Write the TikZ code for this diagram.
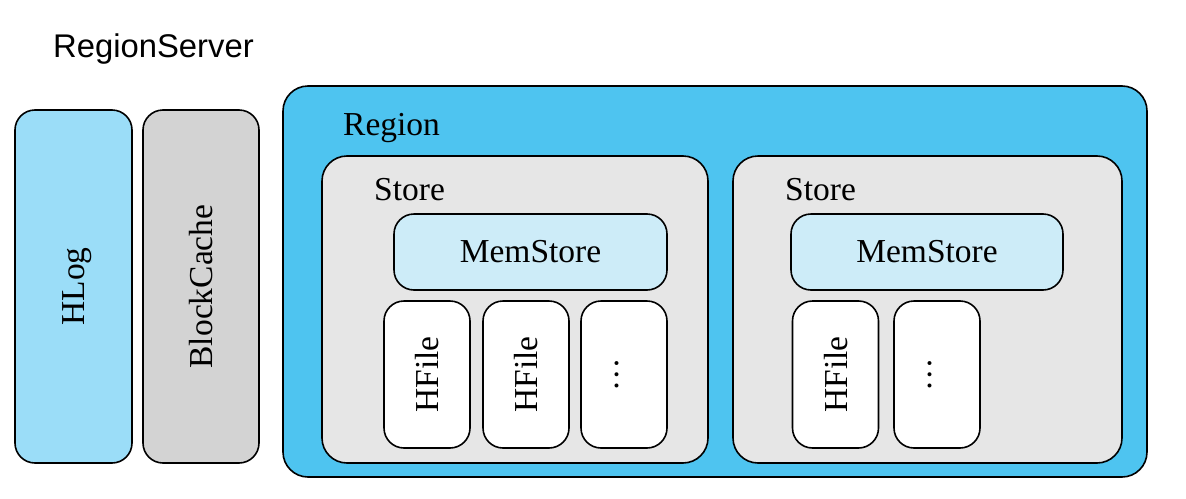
\documentclass[tikz,border=0pt]{standalone}
\usepackage{fontspec}
\setmainfont{Liberation Serif}
\newfontfamily\titlefont{Liberation Sans}
\usepackage{graphicx}
\definecolor{hlogblue}{RGB}{155,221,248}
\definecolor{regionblue}{RGB}{78,196,240}
\definecolor{cachegray}{RGB}{211,211,211}
\definecolor{storegray}{RGB}{230,230,230}
\definecolor{memblue}{RGB}{205,236,248}
\tikzset{
	box/.style={draw=black, line width=1.6pt, rounded corners=20pt, inner sep=0pt},
	lbl/.style={font=\fontsize{33.5}{37}\selectfont},
	filebox/.style={box, fill=white, lbl, minimum width=86pt, minimum height=147pt},
}
\newcommand{\vtext}[1]{\rotatebox{90}{\raisebox{0pt}[\height][0pt]{#1}}}
\newcommand{\vdotsbox}{\rotatebox{90}{\rule[-15pt]{0pt}{15pt}\char"2026}}

\begin{document}
\begin{tikzpicture}[x=1pt, y=-1pt]
		%%%%% START %%%%%
		\useasboundingbox (0, 0) rectangle (1186, 498);
		
		\node[anchor=base west, inner sep=0pt, font=\titlefont\fontsize{32.8}{36}\selectfont] (rs) at (53, 57) {RegionServer};
		
		\node[box, fill=hlogblue, lbl, minimum width=117pt, minimum height=353pt] (hlog) at (73.5, 286.5) {\vtext{HLog}};
		\node[box, fill=cachegray, lbl, minimum width=116pt, minimum height=353pt] (cache) at (201, 286.5) {\vtext{BlockCache}};
		
		\node[box, fill=regionblue, rounded corners=25pt, minimum width=864pt, minimum height=391pt] (region) at (715, 281.5) {};
		\node[lbl, anchor=base west, inner sep=0pt] (regiontxt) at (343, 135) {Region};
		
		% left store
		\node[box, fill=storegray, rounded corners=25pt, minimum width=386pt, minimum height=307pt] (store1) at (515, 309.5) {};
		\node[lbl, anchor=base west, inner sep=0pt] (storetxt1) at (374, 200) {Store};
		\node[box, fill=memblue, lbl, minimum width=273pt, minimum height=76pt] (mem1) at (530.5, 252) {MemStore};
		\node[filebox] (hfile1) at (427, 374.5) {\vtext{HFile}};
		\node[filebox] (hfile2) at (526, 374.5) {\vtext{HFile}};
		\node[filebox] (more1) at (624, 374.5) {\vdotsbox};
		
		% right store
		\node[box, fill=storegray, rounded corners=25pt, minimum width=389pt, minimum height=307pt] (store2) at (927.5, 309.5) {};
		\node[lbl, anchor=base west, inner sep=0pt] (storetxt2) at (785, 200) {Store};
		\node[box, fill=memblue, lbl, minimum width=272pt, minimum height=76pt] (mem2) at (927, 252) {MemStore};
		\node[filebox] (hfile3) at (835.5, 374.5) {\vtext{HFile}};
		\node[filebox] (more2) at (937, 374.5) {\vdotsbox};
		
		%%%%% END %%%%%
	\end{tikzpicture}
\end{document}
